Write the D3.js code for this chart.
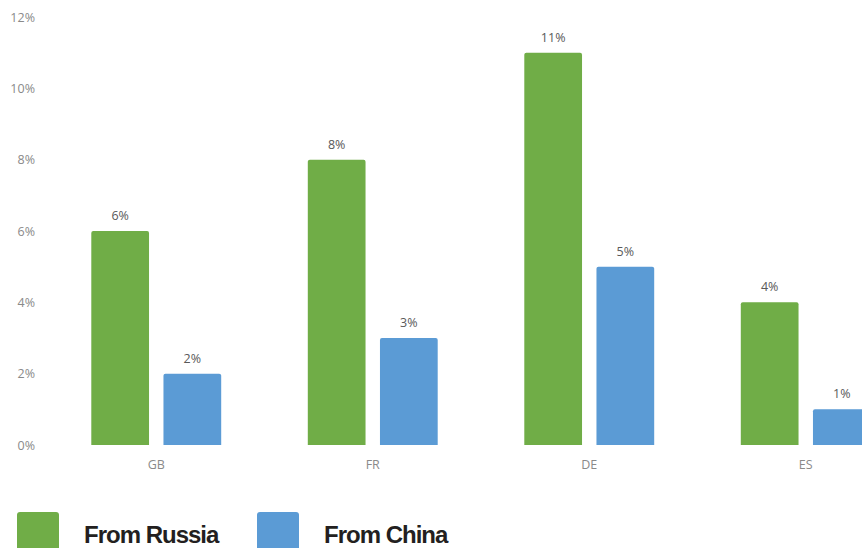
<!DOCTYPE html>
<html>
<head>
<meta charset="utf-8">
<script src="https://cdn.jsdelivr.net/npm/d3@7"></script>
<style>
  html, body { margin: 0; padding: 0; background: #fff; }
  svg { display: block; }
</style>
</head>
<body>
<svg id="chart" width="862" height="548"></svg>
<script>
// Share of imports by origin, per country
const countries = ["GB", "FR", "DE", "ES"];
const seriesNames = ["From Russia", "From China"];
const fromRussia = [6, 8, 11, 4];
const fromChina = [2, 3, 5, 1];
const yTicks = [0, 2, 4, 6, 8, 10, 12];
const colors = ["#70ad47", "#5b9bd5"];

const svg = d3.select("#chart");

const y = d3.scaleLinear().domain([0, 12]).range([445, 17]);
const x = d3.scaleBand().domain(countries).range([48, 914])
  .paddingInner(0.4).paddingOuter(0.2);
const xs = d3.scaleBand().domain(seriesNames).range([0, x.bandwidth()])
  .paddingInner(0.2);

const rows = countries.map((c, i) => ({
  country: c,
  values: [fromRussia[i], fromChina[i]]
}));

// y axis labels (no line, no gridlines)
const yAxis = d3.axisLeft(y).tickValues(yTicks).tickFormat(d => d + "%").tickSize(0).tickPadding(0);
const gy = svg.append("g").attr("transform", "translate(35,0)").call(yAxis);
gy.select(".domain").remove();
gy.selectAll("text")
  .attr("fill", "#8a8a8a")
  .style("font-family", "'Open Sans', sans-serif")
  .style("font-size", "12.5px");

// x axis labels
const xAxis = d3.axisBottom(x).tickSize(0).tickPadding(0);
const gx = svg.append("g").attr("transform", "translate(0,460)").call(xAxis);
gx.select(".domain").remove();
gx.selectAll("text")
  .attr("fill", "#8a8a8a")
  .style("font-family", "'Open Sans', sans-serif")
  .style("font-size", "12.5px");

// bar shape with slightly rounded top corners
function barPath(x0, w, yTop, yBot, r) {
  r = Math.min(r, w / 2, (yBot - yTop) / 2);
  return `M${x0},${yBot}V${yTop + r}Q${x0},${yTop} ${x0 + r},${yTop}` +
         `H${x0 + w - r}Q${x0 + w},${yTop} ${x0 + w},${yTop + r}V${yBot}Z`;
}

const groups = svg.append("g").selectAll("g")
  .data(rows).join("g")
  .attr("transform", d => `translate(${x(d.country)},0)`);

groups.selectAll("path")
  .data(d => d.values.map((v, i) => ({ v, s: seriesNames[i], i })))
  .join("path")
  .attr("d", d => barPath(xs(d.s), xs.bandwidth(), y(d.v), y(0), 2))
  .attr("fill", d => colors[d.i]);

groups.selectAll("text.val")
  .data(d => d.values.map((v, i) => ({ v, s: seriesNames[i], i })))
  .join("text")
  .attr("class", "val")
  .attr("x", d => xs(d.s) + xs.bandwidth() / 2)
  .attr("y", d => y(d.v) - 11)
  .attr("text-anchor", "middle")
  .attr("fill", "#595959")
  .style("font-family", "'Open Sans', sans-serif")
  .style("font-size", "12.5px")
  .text(d => d.v + "%");

// legend
const legend = svg.append("g");
const legX = [17, 257];
seriesNames.forEach((name, i) => {
  legend.append("rect")
    .attr("x", legX[i]).attr("y", 512)
    .attr("width", 42).attr("height", 40)
    .attr("rx", 3)
    .attr("fill", colors[i]);
  legend.append("text")
    .attr("x", legX[i] + 67).attr("y", 543)
    .attr("fill", "#231f20")
    .style("font-family", "'Liberation Sans', Arial, sans-serif")
    .style("font-weight", "700")
    .style("font-size", "24px")
    .style("letter-spacing", "-1px")
    .text(name);
});
</script>
</body>
</html>
